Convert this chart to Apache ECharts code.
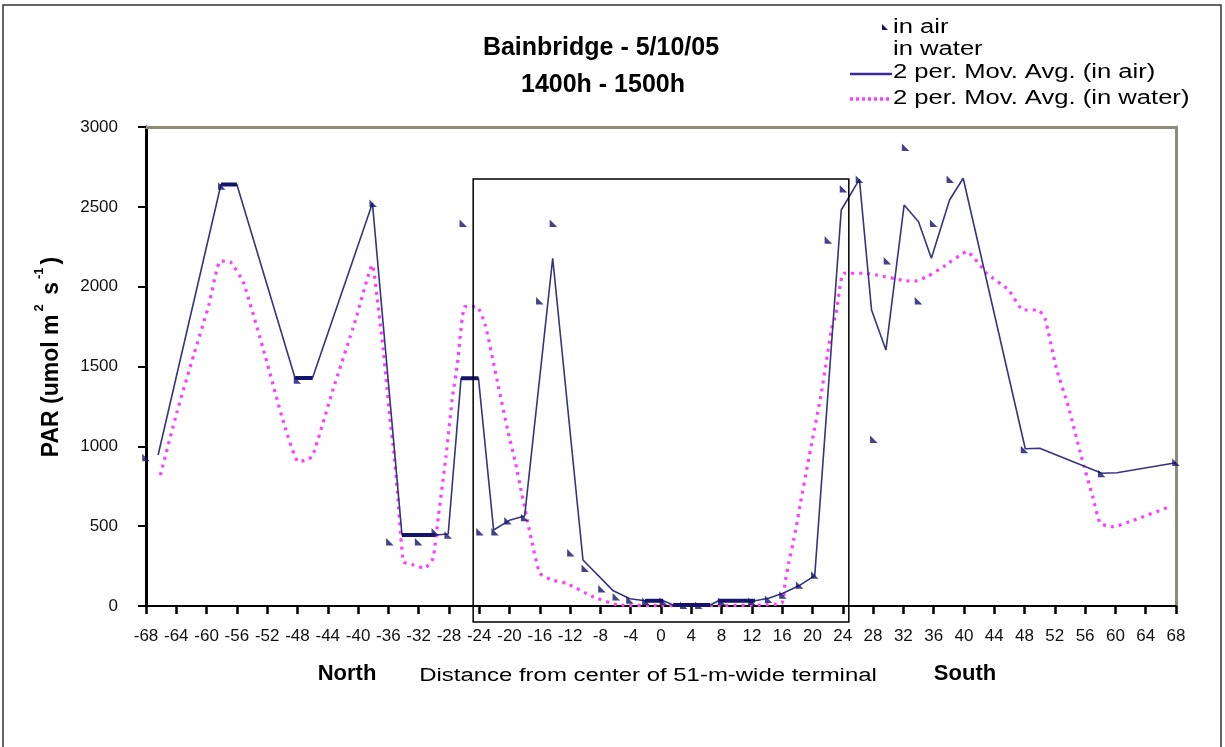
<!DOCTYPE html>
<html>
<head>
<meta charset="utf-8">
<script src="https://cdn.jsdelivr.net/npm/echarts@6/dist/echarts.min.js"></script>
<style>
html,body{margin:0;padding:0;background:#fff;}
#c{width:1225px;height:747px;}
</style>
</head>
<body>
<div id="c"></div>
<script>
// ---- data ----
const xMin = -68, xMax = 68, xInterval = 4;
const yMin = 0, yMax = 3000, yInterval = 500;

// "in air" measured points
const airX = [-68, -58, -48, -38, -35.8, -32, -29.8, -28.1, -26.1, -23.9, -21.9, -20.2, -18, -16, -14.2, -11.9, -10, -7.8, -5.9, -4.1, -2, 0.3, 3, 5, 8, 12, 14.2, 16.1, 18.3, 20.3, 22.1, 24.1, 26.2, 28.1, 29.9, 32.3, 34, 36, 38.2, 48, 58.2, 68];
const airY = [930, 2630, 1415, 2522, 403, 403, 465, 445, 2397, 465, 465, 534, 555, 1912, 2397, 334, 236, 108, 58, 38, 30, 30, 5, 5, 30, 30, 42, 69, 132, 194, 2292, 2613, 2672, 1044, 2163, 2873, 1912, 2397, 2672, 980, 830, 900];

// 2 per. moving average (in air)
const maAirX = [-66.4, -58.1, -56.0, -48.3, -46.0, -38.1, -34.2, -29.8, -28.1, -26.4, -24.1, -22.1, -19.9, -18.0, -14.3, -10.3, -6.3, -4.1, -2.1, 0.3, 1.6, 6.5, 7.6, 12.4, 14.2, 16.1, 18.4, 20.3, 23.8, 26.2, 27.8, 29.7, 32.1, 34.0, 35.7, 38.1, 39.9, 48.1, 50.0, 58.2, 60.2, 68];
const maAirY = [946, 2640, 2640, 1425, 1430, 2522, 445, 445, 451, 1426, 1426, 476, 539, 564, 2178, 288, 95, 45, 33, 33, 6, 6, 33, 33, 48, 80, 132, 190, 2480, 2672, 1854, 1603, 2511, 2407, 2178, 2543, 2679, 985, 988, 831, 835, 897];

// flat runs where the air markers pile up into a bar
const flatStart = [-58.1, -48.3, -34.2, -26.4, -2.1, 1.6, 7.6];
const flatEnd   = [-56.0, -46.0, -29.8, -24.1, 0.3, 6.5, 12.4];
const flatY     = [2640, 1428, 445, 1426, 33, 6, 33];

// 2 per. moving average (in water)
const maWaterX = [-66.1, -63.9, -61.7, -59.7, -58.2, -56.9, -55.1, -52.3, -49.8, -47.9, -46.8, -46.0, -43.3, -40.4, -38.1, -37.5, -36.7, -36.3, -35.8, -35.3, -34.8, -34.0, -32.7, -31.2, -30.1, -29.4, -28.4, -27.5, -26.9, -25.9, -24.3, -23.2, -21.6, -20.2, -19.2, -18.4, -17.1, -16.0, -14.4, -12.5, -9.2, -5.6, 0, 8, 15.9, 16.4, 16.9, 17.4, 17.9, 18.4, 19.4, 19.9, 21.2, 22.5, 23.1, 23.5, 24.1, 26.9, 28.5, 32.2, 33.5, 35.1, 37.3, 40.4, 43.0, 45.9, 47.8, 49.8, 50.7, 52.2, 53.8, 55.5, 57.0, 58.0, 59.7, 62.1, 67.4];
const maWaterY = [820, 1217, 1572, 1885, 2160, 2156, 2021, 1572, 1144, 904, 914, 939, 1357, 1781, 2136, 1940, 1614, 1426, 1176, 977, 716, 277, 257, 236, 299, 559, 935, 1322, 1509, 1875, 1875, 1760, 1405, 1092, 894, 706, 413, 205, 163, 142, 63, 6, 3, 3, 17, 152, 278, 386, 507, 643, 894, 1019, 1342, 1729, 1829, 1958, 2084, 2084, 2073, 2037, 2035, 2062, 2125, 2219, 2084, 1979, 1854, 1854, 1802, 1489, 1248, 935, 685, 518, 497, 532, 626];

// terminal box (51-m-wide terminal)
const boxLeft = -24.8, boxRight = 24.8, boxTop = 2675;

const titleLines = ['Bainbridge - 5/10/05', '1400h - 1500h'];
const legendNames = ['in air', 'in water', '2 per. Mov. Avg. (in air)', '2 per. Mov. Avg. (in water)'];
const xTitleParts = ['North', 'Distance from center of 51-m-wide terminal', 'South'];

// ---- chart ----
const NAVY = '#14146c';
const NAVY_LINE = '#34347f';
const PINK = '#ff3cff';
const FONT = 'Liberation Sans, Arial, sans-serif';

const zip = (a, b) => a.map((v, i) => [v, b[i]]);
const flatData = [];
flatStart.forEach((s, i) => {
  flatData.push([s, flatY[i]], [flatEnd[i], flatY[i]], ['-', '-']);
});

const chart = echarts.init(document.getElementById('c'), null, {renderer: 'canvas'});
const option = {
  animation: false,
  backgroundColor: '#fff',
  grid: {left: 146, top: 127, right: 49, bottom: 141},
  xAxis: [{
    type: 'value', min: xMin, max: xMax, interval: xInterval,
    axisLine: {show: true, onZero: false, lineStyle: {color: '#000', width: 2}},
    axisTick: {show: true, inside: false, length: 8, lineStyle: {color: '#000', width: 2.5}},
    axisLabel: {color: '#111', fontSize: 17, fontFamily: FONT, margin: 22, formatter: v => String(v)},
    splitLine: {show: false}
  }, {
    type: 'value', position: 'top', min: xMin, max: xMax,
    axisLine: {show: true, onZero: false, lineStyle: {color: '#8c8c78', width: 3}},
    axisTick: {show: false}, axisLabel: {show: false}, splitLine: {show: false}
  }],
  yAxis: [{
    type: 'value', min: yMin, max: yMax, interval: yInterval,
    axisLine: {show: true, onZero: false, lineStyle: {color: '#000', width: 3}},
    axisTick: {show: true, inside: false, length: 8, lineStyle: {color: '#000', width: 2}},
    axisLabel: {color: '#111', fontSize: 17, fontFamily: FONT, margin: 28, formatter: v => String(v)},
    splitLine: {show: false}
  }, {
    type: 'value', position: 'right', min: yMin, max: yMax,
    axisLine: {show: true, onZero: false, lineStyle: {color: '#8c8c78', width: 3}},
    axisTick: {show: false}, axisLabel: {show: false}, splitLine: {show: false}
  }],
  series: [
    {
      name: legendNames[3], type: 'line', data: zip(maWaterX, maWaterY),
      symbol: 'none', smooth: 0.15, z: 2,
      lineStyle: {color: PINK, width: 3.2, type: [3, 5]}
    },
    {
      name: legendNames[2], type: 'line', data: zip(maAirX, maAirY),
      symbol: 'none', z: 3,
      lineStyle: {color: NAVY_LINE, width: 1.6}
    },
    {
      name: 'flat', type: 'line', data: flatData, connectNulls: false,
      symbol: 'none', z: 4,
      lineStyle: {color: NAVY, width: 4}
    },
    {
      name: legendNames[0], type: 'scatter', data: zip(airX, airY),
      symbol: 'path://M0,0L0,10L10,10Z', symbolSize: 7.5, z: 5,
      itemStyle: {color: NAVY}
    }
  ]
};
chart.setOption(option);

function txt(x, y, text, font, align, extra) {
  return Object.assign({type: 'text', x: x, y: y, style: {text: text, font: font, fill: '#000',
    align: align, verticalAlign: 'middle', textAlign: align, textVerticalAlign: 'middle'}}, extra || {});
}

function build() {
  const p1 = chart.convertToPixel({xAxisIndex: 0, yAxisIndex: 0}, [boxLeft, boxTop]);
  const p2 = chart.convertToPixel({xAxisIndex: 0, yAxisIndex: 0}, [boxRight, 0]);
  const g = [];
  // outer frame
  g.push({type: 'rect', shape: {x: 3, y: 5, width: 1218, height: 760},
    style: {fill: null, stroke: '#333', lineWidth: 1.5}, z: 1});
  // terminal box
  g.push({type: 'rect', shape: {x: p1[0], y: p1[1], width: p2[0] - p1[0], height: p2[1] - p1[1] + 16},
    style: {fill: null, stroke: '#000', lineWidth: 1.5}, z: 10});
  // title
  g.push(txt(601, 48, titleLines[0], 'bold 25px ' + FONT, 'center'));
  g.push(txt(603, 85, titleLines[1], 'bold 25px ' + FONT, 'center'));
  // legend
  const lx = 893, rows = [27, 49, 72, 98];
  g.push({type: 'polygon', shape: {points: [[882, rows[0] - 3], [882, rows[0] + 3], [888, rows[0] + 3]]}, style: {fill: NAVY}});
  g.push({type: 'line', shape: {x1: 850, y1: rows[2] + 2, x2: 892, y2: rows[2] + 2}, style: {stroke: '#3a2a9a', lineWidth: 2.5}});
  g.push({type: 'line', shape: {x1: 850, y1: rows[3] + 1, x2: 892, y2: rows[3] + 1}, style: {stroke: PINK, lineWidth: 3.5, lineDash: [3, 3]}});
  legendNames.forEach((n, i) => {
    g.push(txt(lx, rows[i], n, '20px ' + FONT, 'left', {scaleX: 1.28}));
  });
  // y axis name
  g.push({type: 'text', x: 47, y: 357, rotation: Math.PI / 2,
    style: {text: '{b|PAR (umol m}{s|2}{b| s}{s|-1}{b|)}', align: 'center', verticalAlign: 'middle', textAlign: 'center', textVerticalAlign: 'middle',
      rich: {
        b: {font: 'bold 23px ' + FONT, fill: '#000', lineHeight: 32, verticalAlign: 'bottom'},
        s: {font: 'bold 13px ' + FONT, fill: '#000', lineHeight: 32, verticalAlign: 'top', padding: [2, 3, 0, 3]}
      }}});
  // x axis titles
  g.push(txt(347, 674, xTitleParts[0], 'bold 22px ' + FONT, 'center'));
  g.push(txt(648, 676, xTitleParts[1], '18px ' + FONT, 'center', {scaleX: 1.33}));
  g.push(txt(965, 674, xTitleParts[2], 'bold 22px ' + FONT, 'center'));
  chart.setOption({graphic: {elements: g}});
}
build();
</script>
</body>
</html>
